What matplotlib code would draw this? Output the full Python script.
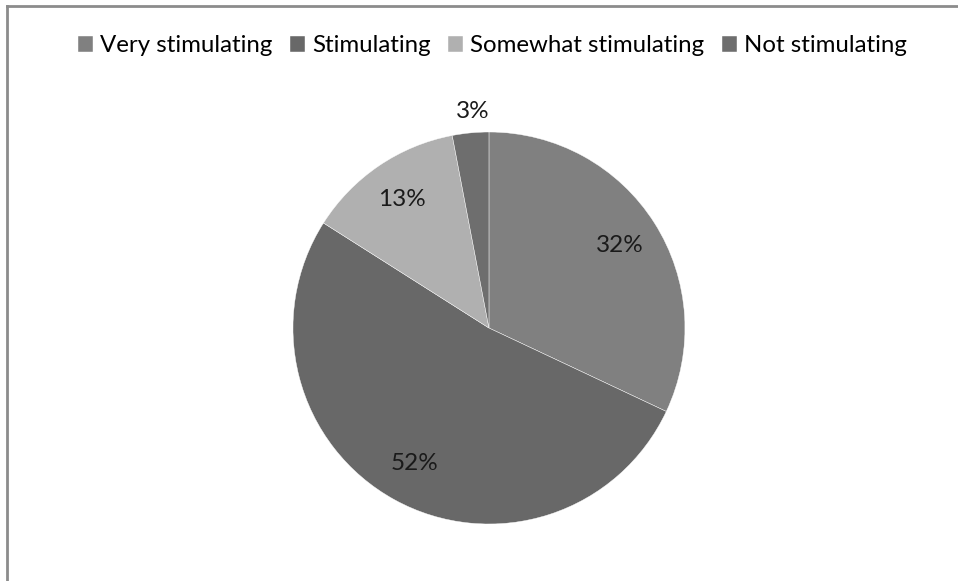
import numpy as np
import matplotlib
matplotlib.use('Agg')
import matplotlib.pyplot as plt
from matplotlib.lines import Line2D

# categories and shares (percent)
labels = ['Very stimulating', 'Stimulating', 'Somewhat stimulating', 'Not stimulating']
values = [32, 52, 13, 3]
colors = ['#808080', '#686868', '#b0b0b0', '#6e6e6e']

plt.rcParams['font.family'] = ['Lato', 'DejaVu Sans']

fig = plt.figure(figsize=(9.58, 5.81), dpi=100)
ax = fig.add_axes([0.3058, 0.0981, 0.4092, 0.6747])

wedges, _ = ax.pie(values, colors=colors, startangle=90, counterclock=False,
                   wedgeprops=dict(edgecolor='white', linewidth=0.3))

# percent labels; small slice goes outside like excel does
for w, v in zip(wedges, values):
    ang = np.deg2rad((w.theta1 + w.theta2) / 2)
    d = 1.11 if v < 5 else 0.79
    ax.text(d * np.cos(ang) + (0.02 if v < 5 else 0), d * np.sin(ang), '%d%%' % v,
            ha='center', va='center', fontsize=17.5, color='#1a1a1a')

ax.set_xlim(-1, 1)
ax.set_ylim(-1, 1)
ax.set_aspect('equal')

fig.legend(wedges, labels, loc='center', bbox_to_anchor=(0.514, 0.921), ncol=4,
           frameon=False, fontsize=17.3, handlelength=0.6, handleheight=0.6,
           handletextpad=0.3, columnspacing=0.75)

# chart frame (only top and left visible)
fig.add_artist(Line2D([0.0073, 1.0], [0.989, 0.989], color='#8c8c8c', lw=2, transform=fig.transFigure))
fig.add_artist(Line2D([0.0073, 0.0073], [0.0, 0.989], color='#8c8c8c', lw=2, transform=fig.transFigure))

plt.savefig('out.png', dpi=100)
